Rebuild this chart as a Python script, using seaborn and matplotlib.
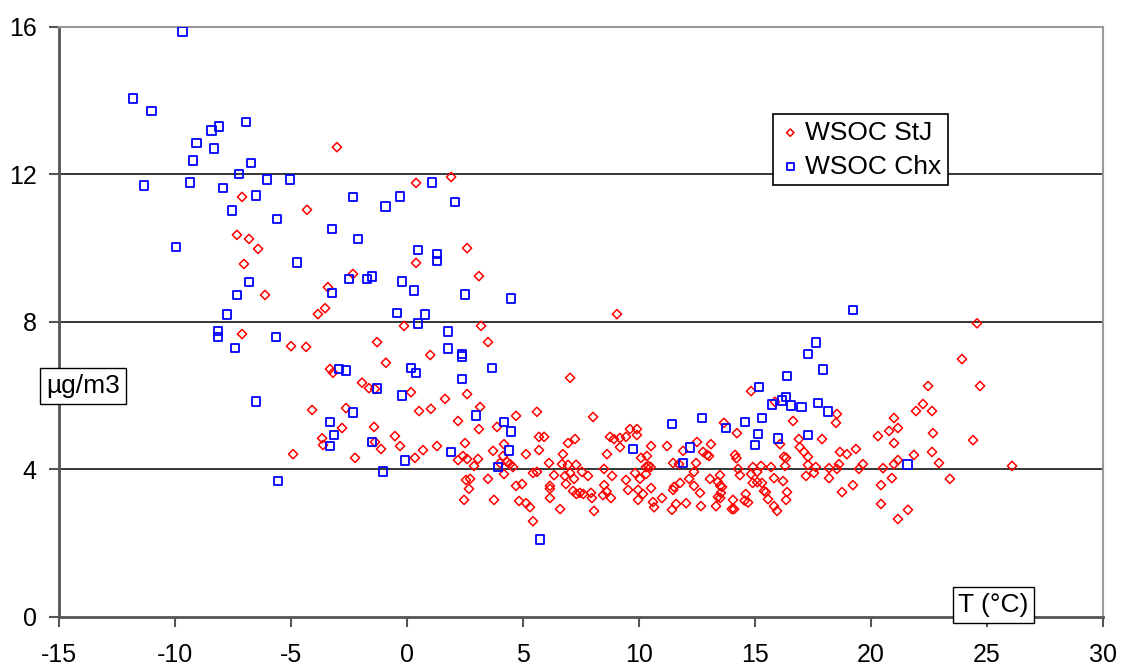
import matplotlib
matplotlib.use("Agg")
import matplotlib.pyplot as plt
import seaborn as sns
import pandas as pd

# WSOC Chx (blue squares)
chx_t = [-9.66, -11.81, -11.0, -11.34, -9.96, -9.35, -9.22, -9.09, -8.41, -8.1,
         -8.32, -6.94, -7.93, -7.24, -6.72, -7.54, -7.33, -7.76, -8.15, -8.15,
         -7.41, -6.81, -6.51, -6.03, -5.04, -5.6, -4.74, -5.65, -6.51, -5.56,
         1.08, -2.33, -0.3, -0.91, 2.07, -3.23, -2.11, 0.47, 1.29, 1.29,
         -2.5, -1.72, -1.51, -0.22, -3.23, 0.3, 2.5, 4.48, -0.43, 0.78,
         0.47, 1.77, 1.77, 2.37, 2.37, 0.17, 0.39, -2.93, -2.63, 2.37,
         -1.29, -0.22, -2.33, 2.97, -3.32, -3.15, -3.32, -1.51, 1.9, -0.09,
         -1.03, 3.66, 4.18, 4.48, 4.4, 3.92, 5.73, 9.74, 11.42, 12.2,
         12.72, 11.9, 19.22, 21.59, 17.02, 17.28, 17.63, 17.93, 17.72, 18.15,
         17.28, 16.38, 16.34, 16.16, 16.55, 15.73, 15.17, 15.3, 14.57, 15.13,
         15.0, 15.99, 13.75]
chx_c = [15.87, 14.07, 13.72, 11.69, 10.03, 11.79, 12.37, 12.85, 13.2, 13.31,
         12.71, 13.42, 11.63, 12.01, 12.31, 11.03, 8.73, 8.21, 7.75, 7.59,
         7.29, 9.08, 11.42, 11.87, 11.87, 10.79, 9.62, 7.59, 5.83, 3.68,
         11.79, 11.39, 11.41, 11.12, 11.25, 10.52, 10.25, 9.95, 9.84, 9.65,
         9.16, 9.16, 9.22, 9.1, 8.78, 8.84, 8.75, 8.64, 8.24, 8.21,
         7.96, 7.73, 7.27, 7.13, 7.05, 6.75, 6.61, 6.72, 6.67, 6.45,
         6.2, 6.01, 5.53, 5.45, 5.28, 4.93, 4.63, 4.74, 4.47, 4.23,
         3.93, 6.75, 5.28, 5.02, 4.52, 4.06, 2.1, 4.55, 5.23, 4.6,
         5.39, 4.17, 8.32, 4.12, 5.69, 7.13, 7.43, 6.7, 5.8, 5.56,
         4.93, 6.53, 5.96, 5.86, 5.72, 5.75, 6.23, 5.39, 5.28, 4.96,
         4.66, 4.84, 5.12]

# WSOC StJ (red diamonds)
stj_t = [-7.11, -4.31, -7.33, -6.81, -6.42, -7.03, -6.12, -3.84, -3.02, 0.39,
         1.9, 0.39, 2.59, -2.33, 3.1, -3.41, -3.53, -0.13, -7.11, -5.0,
         -4.35, -1.29, 1.0, -0.91, -3.32, -3.19, -1.94, -1.64, -1.38, 0.17,
         2.59, -4.09, -2.63, 0.52, 1.03, 1.64, 2.2, 3.15, 3.1, -2.8,
         -3.66, -3.62, -1.42, -1.38, -1.12, -0.52, -0.3, 0.69, 1.29, 0.34,
         2.5, 2.2, 2.41, 2.59, 3.06, 2.89, -4.91, -2.24, 2.54, 2.72,
         2.67, 2.46, 9.05, 3.19, 3.49, 7.03, 4.7, 5.6, 8.02, 3.88,
         5.69, 5.91, 6.94, 7.24, 8.75, 8.92, 9.18, 9.44, 9.61, 9.91,
         9.91, 9.18, 10.52, 11.21, 11.9, 12.5, 13.1, 12.76, 12.93, 13.02,
         11.47, 11.72, 12.46, 12.37, 13.06, 12.16, 11.77, 11.51, 11.47, 12.37,
         12.63, 12.03, 11.6, 11.42, 12.67, 13.4, 13.4, 13.32, 3.71, 4.18,
         4.14, 4.31, 4.44, 4.57, 4.01, 4.18, 5.13, 5.69, 5.43, 5.6,
         6.12, 6.34, 6.68, 6.94, 7.29, 6.72, 7.03, 6.81, 7.2, 7.54,
         7.8, 6.85, 6.16, 6.16, 6.16, 6.6, 7.16, 7.3, 7.45, 7.6,
         7.93, 7.97, 8.06, 8.49, 8.62, 8.84, 8.5, 8.45, 8.6, 8.79,
         9.44, 9.83, 10.04, 10.09, 10.34, 10.3, 10.4, 10.5, 10.3, 9.53,
         9.96, 10.17, 10.52, 9.96, 10.6, 10.65, 10.99, 3.49, 3.75, 4.7,
         4.96, 4.83, 5.13, 5.3, 5.43, 24.57, 23.92, 24.7, 22.46, 22.24,
         21.94, 22.63, 22.67, 22.63, 22.93, 23.4, 24.4, 26.08, 20.99, 21.16,
         20.78, 20.3, 20.99, 21.85, 21.16, 20.99, 20.52, 20.9, 20.43, 20.43,
         21.16, 21.59, 19.22, 18.75, 19.35, 18.96, 18.66, 18.53, 18.49, 17.89,
         18.62, 19.65, 19.48, 18.53, 18.19, 18.19, 17.62, 17.54, 17.2, 17.28,
         17.28, 17.11, 16.93, 16.89, 16.64, 15.86, 14.83, 13.66, 14.22, 16.08,
         16.34, 16.25, 16.3, 15.69, 15.26, 14.91, 15.09, 14.83, 14.14, 14.2,
         14.27, 14.35, 15.82, 16.21, 16.38, 16.34, 15.82, 15.95, 15.56, 15.47,
         15.39, 14.9, 15.1, 15.3, 14.6, 14.55, 14.7, 14.05, 14.0, 14.1,
         13.49, 13.5, 13.58, 13.53, 13.5]
stj_c = [11.39, 11.04, 10.36, 10.25, 9.98, 9.57, 8.73, 8.21, 12.74, 11.77,
         11.93, 9.6, 10.0, 9.3, 9.24, 8.94, 8.37, 7.89, 7.67, 7.34,
         7.32, 7.45, 7.1, 6.89, 6.72, 6.62, 6.35, 6.2, 6.18, 6.09,
         6.04, 5.61, 5.66, 5.58, 5.64, 5.91, 5.31, 5.69, 5.09, 5.12,
         4.84, 4.66, 5.15, 4.74, 4.55, 4.9, 4.63, 4.52, 4.63, 4.31,
         4.71, 4.25, 4.36, 4.28, 4.28, 4.09, 4.41, 4.31, 3.71, 3.74,
         3.47, 3.17, 8.21, 7.89, 7.45, 6.48, 5.45, 5.56, 5.42, 5.15,
         4.88, 4.88, 4.71, 4.82, 4.88, 4.82, 4.85, 4.88, 5.09, 5.09,
         4.93, 4.6, 4.63, 4.63, 4.5, 4.74, 4.68, 4.47, 4.39, 4.36,
         4.17, 4.14, 4.17, 3.93, 3.74, 3.74, 3.63, 3.52, 3.44, 3.55,
         3.36, 3.08, 3.06, 2.9, 3.0, 3.66, 3.25, 3.0, 4.5, 4.68,
         4.36, 4.2, 4.14, 4.06, 4.17, 3.87, 4.41, 4.52, 3.9, 3.93,
         4.17, 3.84, 4.14, 4.12, 4.12, 4.41, 3.9, 3.82, 3.74, 3.93,
         3.82, 3.6, 3.55, 3.47, 3.22, 2.92, 3.41, 3.33, 3.36, 3.33,
         3.36, 3.22, 2.87, 4.01, 4.41, 3.82, 3.57, 3.3, 3.4, 3.22,
         3.71, 3.9, 3.74, 4.31, 4.36, 4.06, 4.09, 4.06, 3.87, 3.44,
         3.44, 3.33, 3.49, 3.17, 3.11, 2.97, 3.22, 3.74, 3.17, 3.55,
         3.6, 3.14, 3.08, 2.97, 2.59, 7.96, 6.99, 6.26, 6.26, 5.77,
         5.58, 5.58, 4.98, 4.47, 4.17, 3.74, 4.79, 4.09, 5.39, 5.12,
         5.04, 4.9, 4.71, 4.39, 4.25, 4.14, 4.03, 3.76, 3.57, 3.06,
         2.65, 2.9, 3.57, 3.38, 4.55, 4.41, 4.47, 5.5, 5.26, 4.82,
         4.14, 4.14, 4.01, 4.01, 4.03, 3.76, 4.06, 3.9, 3.82, 4.12,
         4.34, 4.47, 4.6, 4.82, 5.31, 5.83, 6.12, 5.26, 4.98, 4.68,
         4.31, 4.34, 4.09, 4.06, 4.09, 4.06, 3.93, 3.87, 4.39, 4.3,
         4.01, 3.84, 3.76, 3.68, 3.38, 3.17, 3.0, 2.87, 3.19, 3.38,
         3.41, 3.63, 3.65, 3.63, 3.33, 3.15, 3.1, 3.17, 2.92, 2.92,
         3.84, 3.55, 3.52, 3.36, 3.22]

series_names = ["WSOC StJ", "WSOC Chx"]
x_ticks = [-15, -10, -5, 0, 5, 10, 15, 20, 25, 30]
y_ticks = [0, 4, 8, 12, 16]

df_stj = pd.DataFrame({"T": stj_t, "C": stj_c})
df_chx = pd.DataFrame({"T": chx_t, "C": chx_c})

sns.set_style("white")
plt.rcParams["font.family"] = ["Liberation Sans", "DejaVu Sans"]
plt.rcParams["axes.unicode_minus"] = False
plt.rcParams["text.color"] = "black"
plt.rcParams["xtick.labelcolor"] = "black"
plt.rcParams["ytick.labelcolor"] = "black"

W, H = 1122, 668
fig = plt.figure(figsize=(W / 100, H / 100), dpi=100)
ax = fig.add_axes([59 / W, 1 - 616.7 / H, 1044 / W, 589.7 / H])

sns.scatterplot(data=df_stj, x="T", y="C", ax=ax, marker="D", s=22,
                facecolor="none", edgecolor="#ff0000", linewidth=1.1,
                label=series_names[0], zorder=3)
sns.scatterplot(data=df_chx, x="T", y="C", ax=ax, marker="s", s=40,
                facecolor="none", edgecolor="#0000ff", linewidth=1.3,
                label=series_names[1], zorder=4)

ax.set_xlim(-15, 30)
ax.set_ylim(0, 16)
ax.set_xticks(x_ticks)
ax.set_yticks(y_ticks)
ax.set_xlabel("")
ax.set_ylabel("")
for yv in [4, 8, 12]:
    ax.axhline(yv, color="black", linewidth=1.1, zorder=1)

for s in ["left", "bottom"]:
    ax.spines[s].set_color("#555555")
    ax.spines[s].set_linewidth(2)
for s in ["top", "right"]:
    ax.spines[s].set_color("#999999")
    ax.spines[s].set_linewidth(1.5)

ax.tick_params(axis="both", which="major", direction="out", length=7,
               width=1.5, color="#555555", labelsize=18, labelcolor="black",
               left=True, bottom=True)
ax.tick_params(axis="x", pad=12)
ax.tick_params(axis="y", pad=9)

box = dict(boxstyle="square,pad=0.22", fc="white", ec="black", lw=1)
fig.text(83 / W, 1 - 386 / H, "µg/m3", fontsize=19, ha="center",
         va="center", bbox=box, zorder=6, color="black")
fig.text(993.5 / W, 1 - 605 / H, "T (°C)", fontsize=19, ha="center",
         va="center", bbox=box, zorder=6, color="black")

leg = ax.legend(loc="upper left", bbox_to_anchor=(0.684, 0.8525),
                borderaxespad=0, fontsize=19, frameon=True, fancybox=False,
                edgecolor="black", framealpha=1, borderpad=0.25,
                handletextpad=0.15, handlelength=0.8, labelspacing=0.38,
                markerscale=0.8)
leg.get_frame().set_linewidth(1.2)
for t in leg.get_texts():
    t.set_color("black")

fig.savefig("out.png", dpi=100)
